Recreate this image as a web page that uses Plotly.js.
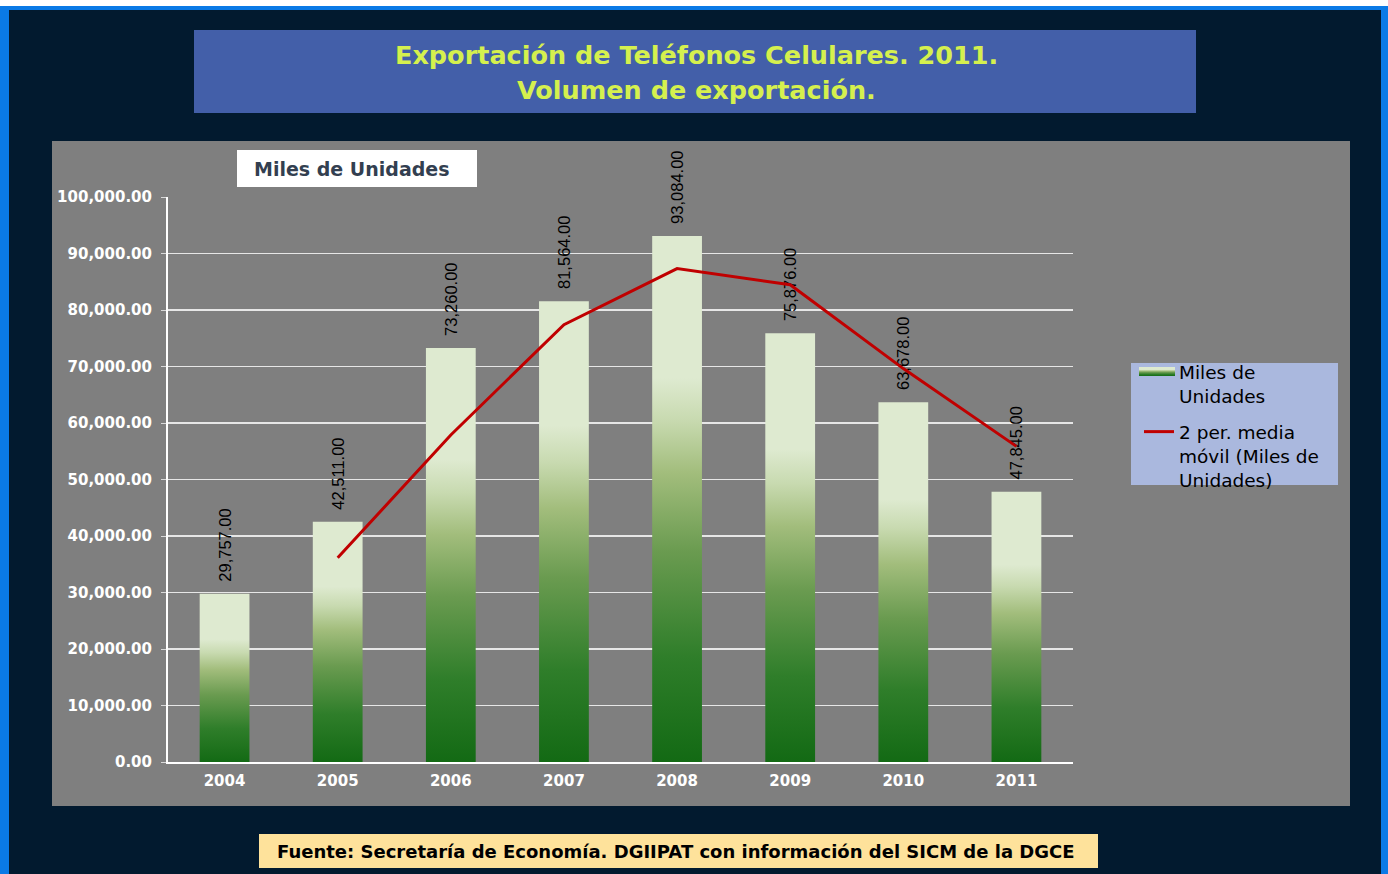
<!DOCTYPE html>
<html>
<head>
<meta charset="utf-8">
<script src="https://cdn.plot.ly/plotly-3.0.1.min.js"></script>
<style>html,body{margin:0;padding:0;background:#021a2f;}#chart{width:1388px;height:874px;}</style>
</head>
<body>
<div id="chart"></div>
<script>
// ---- data ----
const years = ['2004','2005','2006','2007','2008','2009','2010','2011'];
const units = [29757, 42511, 73260, 81564, 93084, 75876, 63678, 47845];
const movingAvg = [null, 36134, 57885.5, 77412, 87324, 84480, 69627, 55861.5];
const yTickVals = [0,10000,20000,30000,40000,50000,60000,70000,80000,90000,100000];

// ---- geometry helpers (pixel -> paper) ----
const W = 1388, H = 874, L = 168, R = 1073, T = 197, B = 762;
const px = x => (x - L) / (R - L);
const py = y => (B - y) / (B - T);
const WIDE = 'DejaVu Sans, Verdana, sans-serif';
const ARIAL = 'Liberation Sans, Arial, sans-serif';

function rect(x0, y0, x1, y1, color) {
  return {type:'rect', xref:'paper', yref:'paper', x0:px(x0), x1:px(x1), y0:py(y1), y1:py(y0),
          fillcolor:color, line:{width:0}, layer:'below'};
}

const traces = [
  {
    type:'bar', x: years, y: units, name:'Miles de<br>Unidades', legendgroup:'a',
    marker:{color:'#8fb36c', line:{width:0}},
    texttemplate:'\u00a0\u00a0%{y:,.2f}', textposition:'outside', textangle:-90,
    textfont:{family:ARIAL, size:16.5, color:'#000000'},
    constraintext:'none', cliponaxis:false, hoverinfo:'x+y'
  },
  {
    type:'scatter', mode:'lines', x: years, y: movingAvg, name:'2 per. media<br>móvil (Miles de<br>Unidades)',
    legendgroup:'b', line:{color:'#c00000', width:3}, connectgaps:false, cliponaxis:false
  }
];

const layout = {
  width: W, height: H,
  margin:{l:L, r:W-R, t:T, b:H-B, pad:0},
  paper_bgcolor:'#0a7ae6',
  plot_bgcolor:'#7f7f7f',
  bargap:0.56,
  showlegend:true,
  legend:{
    x:px(1139), y:py(353), xanchor:'left', yanchor:'top',
    bgcolor:'rgba(0,0,0,0)', borderwidth:0,
    font:{family:WIDE, size:18.5, color:'#000000'},
    traceorder:'grouped', tracegroupgap:9, valign:'top', itemwidth:30
  },
  xaxis:{
    type:'category', showline:true, linecolor:'#ffffff', linewidth:2,
    ticks:'', showgrid:false, zeroline:false,
    tickfont:{family:WIDE, size:15, color:'#ffffff', weight:'bold'},
    ticklabelstandoff:4
  },
  yaxis:{
    range:[0,100000], tickvals:yTickVals, tickformat:',.2f',
    showline:true, linecolor:'#ffffff', linewidth:2,
    ticks:'outside', ticklen:5, tickcolor:'#d9d9d9', tickwidth:1,
    showgrid:true, gridcolor:'#e6e6e6', gridwidth:1.5, zeroline:false,
    tickfont:{family:WIDE, size:15, color:'#ffffff', weight:'bold'},
    ticklabelstandoff:6
  },
  shapes:[
    rect(0, 0, W, 6, '#ffffff'),
    rect(9, 10, 1381, H+5, '#021a2f'),
    rect(194, 30, 1196, 113, '#435fa9'),
    rect(52, 141, 1350, 806, '#7f7f7f'),
    rect(237, 150, 477, 187, '#ffffff'),
    rect(1131, 363, 1338, 485, '#aab8de'),
    rect(259, 834, 1098, 868, '#fee29b')
  ],
  annotations:[
    {xref:'paper', yref:'paper', x:px(696), y:py(55), xanchor:'center', yanchor:'middle', showarrow:false,
     text:'Exportación de Teléfonos Celulares. 2011.',
     font:{family:WIDE, size:25.5, color:'#d5f04e', weight:'bold'}},
    {xref:'paper', yref:'paper', x:px(696), y:py(90), xanchor:'center', yanchor:'middle', showarrow:false,
     text:'Volumen de exportación.',
     font:{family:WIDE, size:25.5, color:'#d5f04e', weight:'bold'}},
    {xref:'paper', yref:'paper', x:px(252), y:py(168.5), xanchor:'left', yanchor:'middle', showarrow:false,
     text:'Miles de Unidades', font:{family:WIDE, size:19, color:'#333f50', weight:'bold'}},
    {xref:'paper', yref:'paper', x:px(676), y:py(851), xanchor:'center', yanchor:'middle', showarrow:false,
     text:'Fuente: Secretaría de Economía. DGIIPAT con información del SICM de la DGCE',
     font:{family:WIDE, size:18, color:'#000000', weight:'bold'}}
  ]
};

Plotly.newPlot('chart', traces, layout, {displayModeBar:false, staticPlot:true}).then(gd => {
  const NS = 'http://www.w3.org/2000/svg';
  const svg = gd.querySelector('svg.main-svg');
  let defs = svg.querySelector('defs');
  if (!defs) { defs = document.createElementNS(NS, 'defs'); svg.insertBefore(defs, svg.firstChild); }
  const grad = document.createElementNS(NS, 'linearGradient');
  grad.setAttribute('id', 'barGrad');
  grad.setAttribute('x1', '0'); grad.setAttribute('y1', '1');
  grad.setAttribute('x2', '0'); grad.setAttribute('y2', '0');
  const stops = [[0,'#136a14'],[0.2,'#2f7e2a'],[0.4,'#6a9b50'],[0.55,'#a2bd7c'],[0.65,'#c8dab0'],[0.73,'#deead0'],[1,'#deead0']];
  stops.forEach(([o,c]) => {
    const s = document.createElementNS(NS, 'stop');
    s.setAttribute('offset', o); s.setAttribute('stop-color', c);
    grad.appendChild(s);
  });
  defs.appendChild(grad);
  gd.querySelectorAll('.barlayer .point path').forEach(p => { p.style.fill = 'url(#barGrad)'; });
  gd.querySelectorAll('.legend .traces').forEach(t => {
    t.querySelectorAll('.legendpoints path').forEach(p => {
      const d = p.getAttribute('d') || '';
      if (d.indexOf('M6,6') === 0) {
        p.setAttribute('d', 'M-21,4.5H16V-4.5H-21Z');
        p.style.fill = 'url(#barGrad)';
        p.style.stroke = 'none';
      } else if (d.indexOf('M5,0') === 0) {
        p.setAttribute('d', 'M-2,0h37');
      }
    });
  });
});
</script>
</body>
</html>
